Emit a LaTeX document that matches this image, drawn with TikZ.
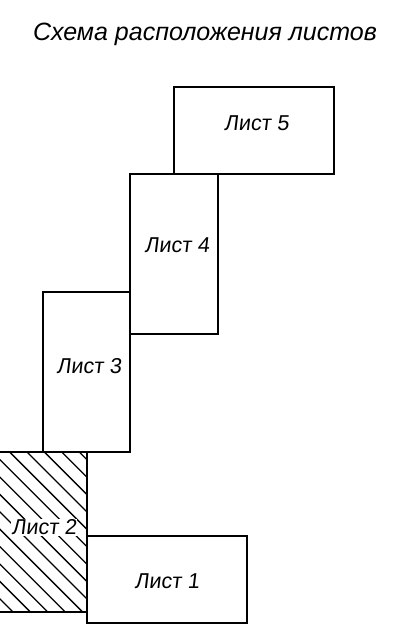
\documentclass[tikz,border=0pt]{standalone}
\usepackage{fontspec}
\setmainfont{Liberation Sans}
\newfontfamily\sheetfont{Liberation Sans}[FakeSlant=0.12]
\tikzset{
  sheet/.style={draw, line width=1.6pt, inner sep=0pt},
  sheetlabel/.style={font=\sheetfont\fontsize{21.5}{24}\selectfont, inner sep=1pt},
  hatch/.style={line width=1.3pt}
}
\begin{document}
\begin{tikzpicture}[x=1pt, y=-1pt]
      \useasboundingbox (0,0) rectangle (406,638);
      \node[font=\itshape\fontsize{25}{28}\selectfont, anchor=base] (title) at (205,40.5) {Схема расположения листов};
      % sheets
      \node[sheet, minimum width=160pt, minimum height=87pt] (sheet5) at (254,130.5) {};
      \node[sheet, minimum width=88pt, minimum height=160pt] (sheet4) at (174,254) {};
      \node[sheet, minimum width=87pt, minimum height=160pt] (sheet3) at (86.5,372) {};
      \node[inner sep=0pt, minimum width=88pt, minimum height=160pt] (sheet2) at (43,532) {};
      \node[sheet, minimum width=160pt, minimum height=87pt] (sheet1) at (167,579.5) {};
      % hatching of sheet 2
      \begin{scope}
        \clip (sheet2.south west) rectangle (sheet2.north east);
        \foreach \k in {-1,...,13}
          \draw[hatch] ({-159+17.4*\k},440) -- ++(185,185);
      \end{scope}
      \draw[line width=1.6pt] (sheet2.south west) -- (sheet2.south east) -- (sheet2.north east) -- (sheet2.north west);
      % labels
      \node[sheetlabel] (label5) at (256.5,123.5) {Лист 5};
      \node[sheetlabel] (label4) at (177,245) {Лист 4};
      \node[sheetlabel] (label3) at (89,366) {Лист 3};
      \node[sheetlabel, fill=white] (label2) at (44,527.5) {Лист 2};
      \node[sheetlabel] (label1) at (167,581) {Лист 1};
    \end{tikzpicture}
\end{document}
